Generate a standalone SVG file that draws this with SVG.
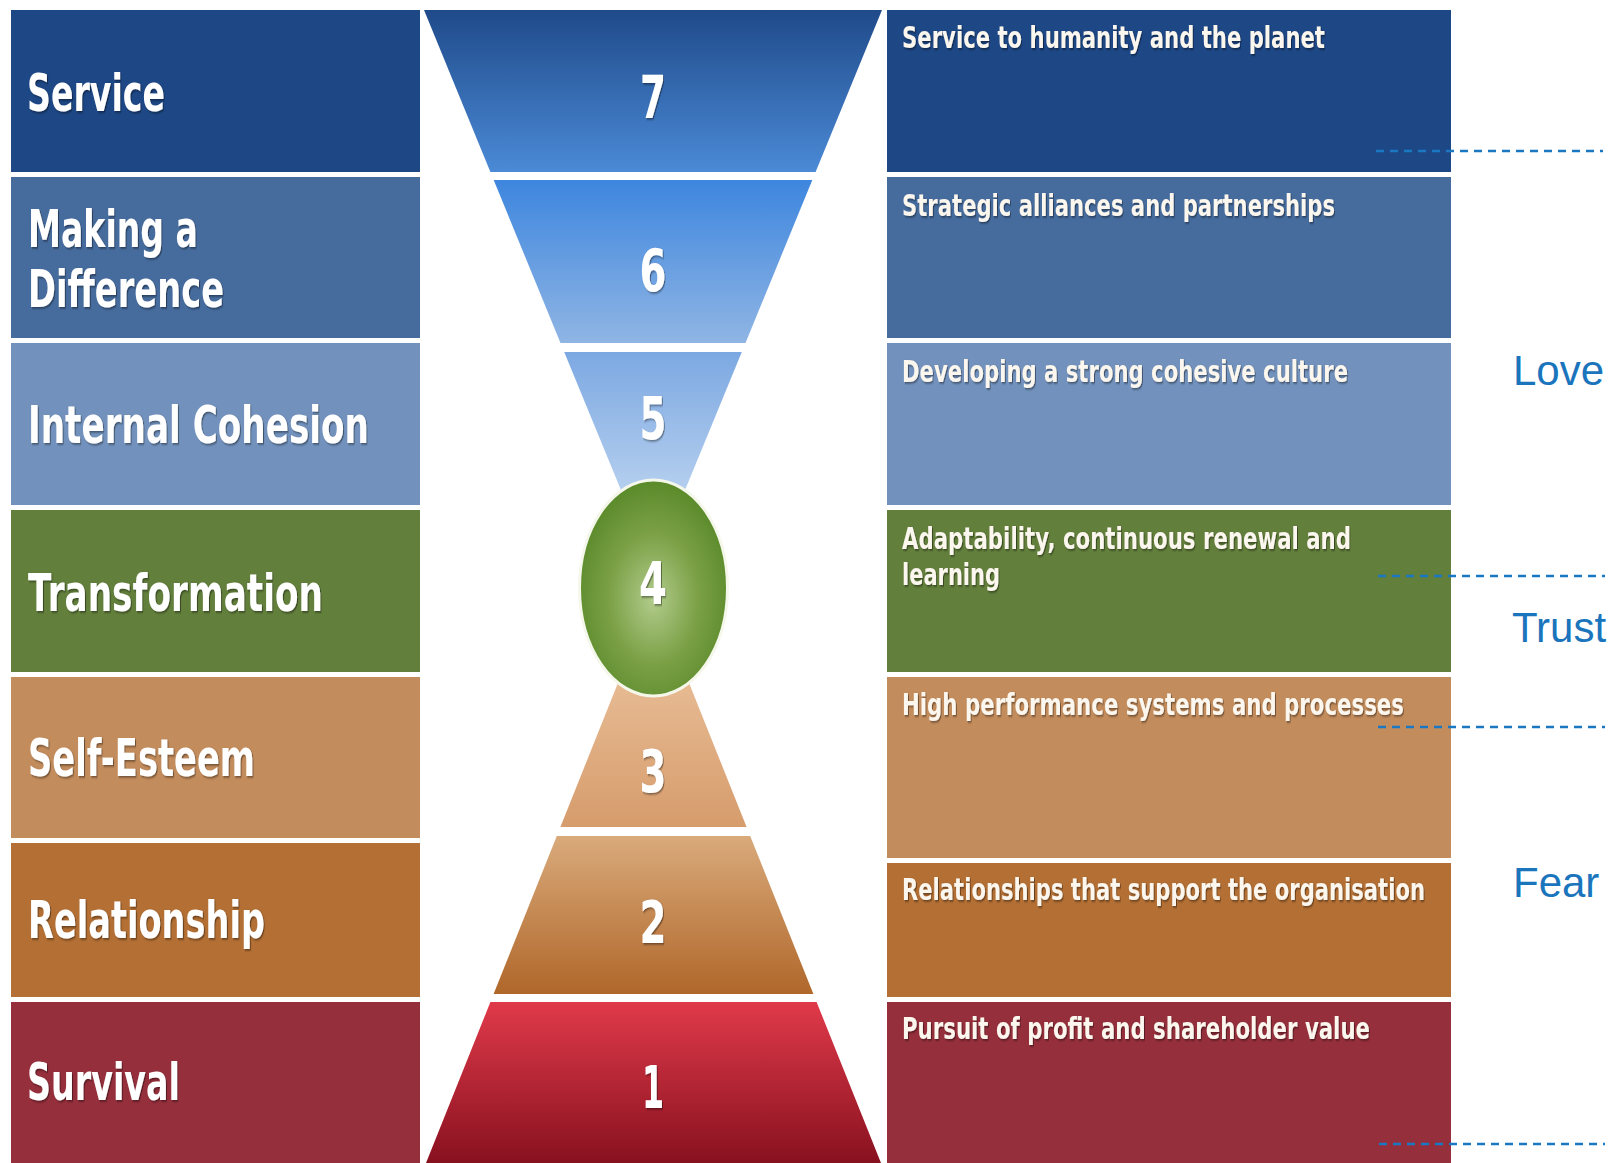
<svg xmlns="http://www.w3.org/2000/svg" width="1616" height="1163" viewBox="0 0 1616 1163">
  <style>
    .lbl { font-family: "DejaVu Sans", Verdana, sans-serif; font-weight: bold; font-size: 52px; fill: #ffffff; filter: url(#sh); }
    .desc { font-family: "DejaVu Sans", Verdana, sans-serif; font-weight: bold; font-size: 30px; fill: #fbf6ee; filter: url(#sh); }
    .num { font-family: "DejaVu Sans", Verdana, sans-serif; font-weight: bold; font-size: 59px; fill: #ffffff; text-anchor: middle; filter: url(#sh); }
    .side { font-family: "Liberation Sans", Arial, sans-serif; font-size: 42px; fill: #1a75bd; }
    .dash { stroke: #1a78c2; stroke-width: 2.5; stroke-dasharray: 8 6; fill: none; }
  </style>
  <defs>
    <filter id="sh" x="-5%" y="-20%" width="110%" height="150%">
      <feDropShadow dx="1.5" dy="1.5" stdDeviation="1" flood-color="#000000" flood-opacity="0.45"/>
    </filter>
    <linearGradient id="g7" x1="0" y1="0" x2="0" y2="1">
      <stop offset="0" stop-color="#1f4a8a"/><stop offset="1" stop-color="#4b8ad6"/>
    </linearGradient>
    <linearGradient id="g6" x1="0" y1="0" x2="0" y2="1">
      <stop offset="0" stop-color="#3d86de"/><stop offset="1" stop-color="#90b5e4"/>
    </linearGradient>
    <linearGradient id="g5" x1="0" y1="0" x2="0" y2="1">
      <stop offset="0" stop-color="#7ca8e2"/><stop offset="1" stop-color="#d4e4f5"/>
    </linearGradient>
    <linearGradient id="g3" x1="0" y1="0" x2="0" y2="1">
      <stop offset="0" stop-color="#f1cdaa"/><stop offset="1" stop-color="#d69c6c"/>
    </linearGradient>
    <linearGradient id="g2" x1="0" y1="0" x2="0" y2="1">
      <stop offset="0" stop-color="#d9aa7b"/><stop offset="1" stop-color="#b0672a"/>
    </linearGradient>
    <linearGradient id="g1" x1="0" y1="0" x2="0" y2="1">
      <stop offset="0" stop-color="#e03a4a"/><stop offset="1" stop-color="#88111f"/>
    </linearGradient>
    <radialGradient id="g4" cx="0.5" cy="0.55" r="0.55">
      <stop offset="0" stop-color="#b2cc8c"/><stop offset="0.55" stop-color="#7ba046"/><stop offset="1" stop-color="#5a8a2a"/>
    </radialGradient>
  </defs>

  <rect x="0" y="0" width="1616" height="1163" fill="#ffffff"/>

  <!-- Left column -->
  <g id="left-service"><rect x="11" y="10" width="409" height="162" fill="#1d4785"/><text class="lbl" transform="translate(27,111) scale(0.72,1)" textLength="191.7" lengthAdjust="spacingAndGlyphs">Service</text></g>
  <g id="left-making"><rect x="11" y="177" width="409" height="161" fill="#466c9e"/><text class="lbl" transform="translate(28,247) scale(0.72,1)" textLength="236.1" lengthAdjust="spacingAndGlyphs">Making a</text><text class="lbl" transform="translate(28,307) scale(0.72,1)" textLength="272.2" lengthAdjust="spacingAndGlyphs">Difference</text></g>
  <g id="left-internal"><rect x="11" y="343" width="409" height="162" fill="#7292bd"/><text class="lbl" transform="translate(28,443) scale(0.72,1)" textLength="473.6" lengthAdjust="spacingAndGlyphs">Internal Cohesion</text></g>
  <g id="left-transformation"><rect x="11" y="510" width="409" height="162" fill="#637f3c"/><text class="lbl" transform="translate(28,611) scale(0.72,1)" textLength="409.7" lengthAdjust="spacingAndGlyphs">Transformation</text></g>
  <g id="left-selfesteem"><rect x="11" y="677" width="409" height="161" fill="#c38c5c"/><text class="lbl" transform="translate(28,776) scale(0.72,1)" textLength="315.3" lengthAdjust="spacingAndGlyphs">Self-Esteem</text></g>
  <g id="left-relationship"><rect x="11" y="843" width="409" height="154" fill="#b36f34"/><text class="lbl" transform="translate(28,938) scale(0.72,1)" textLength="329.2" lengthAdjust="spacingAndGlyphs">Relationship</text></g>
  <g id="left-survival"><rect x="11" y="1002" width="409" height="161" fill="#962f3c"/><text class="lbl" transform="translate(27,1100) scale(0.72,1)" textLength="212.5" lengthAdjust="spacingAndGlyphs">Survival</text></g>

  <!-- Funnel -->
  <g id="level-7"><polygon points="424,10 882,10 815.6,172 490.4,172" fill="url(#g7)"/><text class="num" transform="translate(653,118) scale(0.65,1)" textLength="40" lengthAdjust="spacingAndGlyphs">7</text></g>
  <g id="level-6"><polygon points="493.7,180 812.3,180 745.5,343 560.5,343" fill="url(#g6)"/><text class="num" transform="translate(653,291) scale(0.65,1)" textLength="41.5" lengthAdjust="spacingAndGlyphs">6</text></g>
  <g id="level-5"><polygon points="564.2,352 741.8,352 653,568" fill="url(#g5)"/><text class="num" transform="translate(653,439) scale(0.65,1)" textLength="41.5" lengthAdjust="spacingAndGlyphs">5</text></g>
  <g id="level-3"><polygon points="653.5,594 746.6,827 560.4,827" fill="url(#g3)"/><text class="num" transform="translate(653,792) scale(0.65,1)" textLength="41.5" lengthAdjust="spacingAndGlyphs">3</text></g>
  <g id="level-2"><polygon points="556.8,836 750.2,836 813.4,994 493.6,994" fill="url(#g2)"/><text class="num" transform="translate(653,943) scale(0.65,1)" textLength="41.5" lengthAdjust="spacingAndGlyphs">2</text></g>
  <g id="level-1"><polygon points="490.4,1002 816.6,1002 881,1163 426,1163" fill="url(#g1)"/><text class="num" transform="translate(653,1108) scale(0.65,1)" textLength="34" lengthAdjust="spacingAndGlyphs">1</text></g>
  <g id="level-4"><ellipse cx="653.5" cy="588" rx="74" ry="108" fill="url(#g4)" stroke="#f4f7ea" stroke-width="3"/><text class="num" transform="translate(653,604) scale(0.65,1)" textLength="43" lengthAdjust="spacingAndGlyphs">4</text></g>

  <!-- Right column -->
  <g id="right-service"><rect x="887" y="10" width="564" height="162" fill="#1d4785"/><text class="desc" transform="translate(902,48) scale(0.66,1)" textLength="640.9" lengthAdjust="spacingAndGlyphs">Service to humanity and the planet</text></g>
  <g id="right-making"><rect x="887" y="177" width="564" height="161" fill="#466c9e"/><text class="desc" transform="translate(902,216) scale(0.66,1)" textLength="656.1" lengthAdjust="spacingAndGlyphs">Strategic alliances and partnerships</text></g>
  <g id="right-internal"><rect x="887" y="343" width="564" height="162" fill="#7292bd"/><text class="desc" transform="translate(902,382) scale(0.66,1)" textLength="675.8" lengthAdjust="spacingAndGlyphs">Developing a strong cohesive culture</text></g>
  <g id="right-transformation"><rect x="887" y="510" width="564" height="162" fill="#637f3c"/><text class="desc" transform="translate(902,549) scale(0.66,1)" textLength="680.3" lengthAdjust="spacingAndGlyphs">Adaptability, continuous renewal and</text><text class="desc" transform="translate(902,585) scale(0.66,1)" textLength="148.5" lengthAdjust="spacingAndGlyphs">learning</text></g>
  <g id="right-selfesteem"><rect x="887" y="677" width="564" height="181" fill="#c38c5c"/><text class="desc" transform="translate(902,715) scale(0.66,1)" textLength="760.6" lengthAdjust="spacingAndGlyphs">High performance systems and processes</text></g>
  <g id="right-relationship"><rect x="887" y="863" width="564" height="134" fill="#b36f34"/><text class="desc" transform="translate(902,900) scale(0.66,1)" textLength="792.4" lengthAdjust="spacingAndGlyphs">Relationships that support the organisation</text></g>
  <g id="right-survival"><rect x="887" y="1002" width="564" height="161" fill="#962f3c"/><text class="desc" transform="translate(902,1039) scale(0.66,1)" textLength="709.1" lengthAdjust="spacingAndGlyphs">Pursuit of profit and shareholder value</text></g>

  <!-- Dividers -->
  <g id="connectors">
    <line class="dash" x1="1376" y1="151" x2="1603" y2="151"/>
    <line class="dash" x1="1378" y1="576" x2="1605" y2="576"/>
    <line class="dash" x1="1378" y1="727" x2="1605" y2="727"/>
    <line class="dash" x1="1379" y1="1144" x2="1605" y2="1144"/>
  </g>

  <g id="label-love"><text class="side" x="1513" y="385">Love</text></g>
  <g id="label-trust"><text class="side" x="1512" y="642">Trust</text></g>
  <g id="label-fear"><text class="side" x="1513" y="897">Fear</text></g>
</svg>
